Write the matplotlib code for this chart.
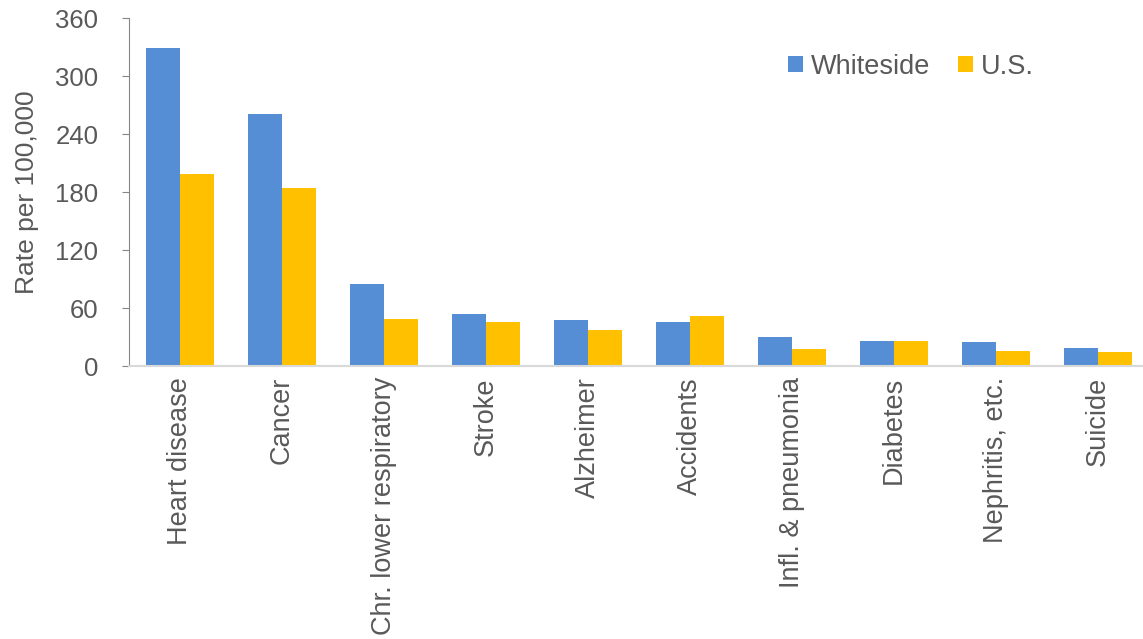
import numpy as np
import matplotlib.pyplot as plt

plt.rcParams['font.family'] = ['Liberation Sans', 'DejaVu Sans']

causes = ["Heart disease", "Cancer", "Chr. lower respiratory", "Stroke", "Alzheimer",
          "Accidents", "Infl. & pneumonia", "Diabetes", "Nephritis, etc.", "Suicide"]
whiteside = [328.5, 261, 84.6, 53.5, 47.3, 45.2, 30, 25.9, 24.5, 19]
us = [199, 184, 48.8, 45.2, 37.3, 51.4, 17.3, 25.9, 15.9, 14.5]
yticks = [0, 60, 120, 180, 240, 300, 360]

W, H = 1143, 639
fig = plt.figure(figsize=(W / 100, H / 100), dpi=100)
ax = fig.add_axes([129 / W, (H - 366) / H, 1020 / W, 348 / H])

txt = '#595959'
x = np.arange(len(causes))
bw = 0.333
ax.bar(x - bw / 2, whiteside, bw, color='#558ED5', label='Whiteside')
ax.bar(x + bw / 2, us, bw, color='#FFC000', label='U.S.')

ax.set_xlim(-0.5, len(causes) - 0.5)
ax.set_ylim(0, 360)
ax.set_yticks(yticks)
ax.set_xticks(x)
ax.set_xticklabels(causes, rotation=90, fontsize=19.5, color=txt)
ax.tick_params(axis='y', labelsize=18.5, labelcolor=txt, length=5, color='#868686',
               direction='out', pad=17)
ax.tick_params(axis='x', length=0, pad=8)
ax.set_ylabel('Rate per 100,000', fontsize=19, color=txt, labelpad=12)

for s in ['top', 'right']:
    ax.spines[s].set_visible(False)
ax.spines['left'].set_color('#868686')
ax.spines['bottom'].set_color('#D9D9D9')
ax.spines['bottom'].set_linewidth(1.5)

leg = ax.legend(loc='center left', bbox_to_anchor=(0.633, 0.86), ncol=2, frameon=False,
                fontsize=19.5, handlelength=0.55, handleheight=0.55, handletextpad=0.3,
                columnspacing=1.0, borderpad=0)
for t in leg.get_texts():
    t.set_color(txt)

fig.savefig('out.png', dpi=100)
